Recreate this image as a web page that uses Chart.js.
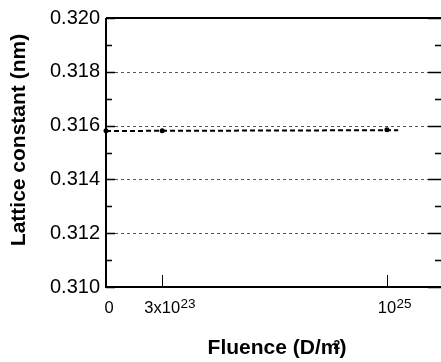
<!DOCTYPE html>
<html>
<head>
<meta charset="utf-8">
<script src="https://cdn.jsdelivr.net/npm/chart.js@4"></script>
<style>
  body { margin: 0; background: #fff; }
  .wrap { width: 441px; height: 362px; overflow: hidden; }
</style>
</head>
<body>
<div class="wrap"><canvas id="myChart" width="448" height="362"></canvas></div>
<script>
// fluence positions (scale units, 0 / 3x10^23 / 10^25 on a stretched axis)
const fluencePos = [0, 1, 5]
const latticeValues = [0.31581, 0.31581, 0.31585]
// dashed fit line
const fitPos = [0, 5.2]
const fitValues = [0.31580, 0.31583]
// x tick labels: base text + exponent
const xTickPos = [0, 1, 5]
const xTickBase = ['0', '3x10', '10']
const xTickExp = ['', '23', '25']
const yMajor = [0.310, 0.312, 0.314, 0.316, 0.318, 0.320]
const yMinor = [0.311, 0.313, 0.315, 0.317, 0.319]

const FONT = '"Liberation Sans", Arial, sans-serif'

const ctx = document.getElementById('myChart')

const framePlugin = {
    id: 'frame',
    afterDraw(chart) {
        const c = chart.ctx
        const a = chart.chartArea
        const x = chart.scales.x
        const y = chart.scales.y
        c.save()

        // dashed gridlines
        c.strokeStyle = '#555'
        c.lineWidth = 1
        c.setLineDash([3, 3])
        for (let i = 1; i < yMajor.length - 1; i++) {
            let py = Math.round(y.getPixelForValue(yMajor[i])) + 0.5
            c.beginPath()
            c.moveTo(a.left + 9, py)
            c.lineTo(a.right - 14, py)
            c.stroke()
        }
        c.setLineDash([])

        // tick marks
        c.strokeStyle = '#000'
        c.lineWidth = 1.5
        for (let i = 0; i < yMajor.length; i++) {
            let py = Math.round(y.getPixelForValue(yMajor[i])) + 0.5
            c.beginPath()
            c.moveTo(a.left, py); c.lineTo(a.left + 9, py)
            c.moveTo(a.right - 14, py); c.lineTo(a.right, py)
            c.stroke()
        }
        for (let i = 0; i < yMinor.length; i++) {
            let py = Math.round(y.getPixelForValue(yMinor[i])) + 0.5
            c.beginPath()
            c.moveTo(a.left, py); c.lineTo(a.left + 6, py)
            c.moveTo(a.right - 7, py); c.lineTo(a.right, py)
            c.stroke()
        }
        c.lineWidth = 1
        for (let i = 1; i < xTickPos.length; i++) {
            let px = Math.round(x.getPixelForValue(xTickPos[i])) + 0.5
            c.beginPath()
            c.moveTo(px, a.bottom - 12); c.lineTo(px, a.bottom)
            c.stroke()
        }

        // frame
        c.lineWidth = 2
        c.beginPath()
        c.moveTo(a.left, a.top); c.lineTo(a.right, a.top)
        c.moveTo(a.left, a.top); c.lineTo(a.left, a.bottom)
        c.moveTo(a.left - 1, a.bottom); c.lineTo(a.right, a.bottom)
        c.moveTo(a.right, a.top); c.lineTo(a.right, a.bottom)
        c.stroke()

        // x tick labels with exponents
        c.fillStyle = '#000'
        c.textBaseline = 'alphabetic'
        for (let i = 0; i < xTickPos.length; i++) {
            let px = x.getPixelForValue(xTickPos[i])
            if (i == 0) px += 3
            c.font = '16.5px ' + FONT
            let w = c.measureText(xTickBase[i]).width
            c.textAlign = 'left'
            c.fillText(xTickBase[i], px - w / 2, a.bottom + 26)
            if (xTickExp[i]) {
                c.font = '13.5px ' + FONT
                c.fillText(xTickExp[i], px + w / 2 + 0.5, a.bottom + 21)
            }
        }

        // axis titles
        c.font = 'bold 21px ' + FONT
        let t1 = 'Fluence (D/m'
        let w1 = c.measureText(t1).width
        let w2 = c.measureText(')').width
        let start = 277 - (w1 + w2) / 2
        c.textAlign = 'left'
        c.fillText(t1, start, 354)
        c.fillText(')', start + w1, 354)
        c.font = 'bold 12px ' + FONT
        c.fillText('2', start + w1 - 6, 349)

        c.save()
        c.translate(19, 140)
        c.rotate(-Math.PI / 2)
        c.font = 'bold 21px ' + FONT
        c.textAlign = 'center'
        c.textBaseline = 'middle'
        c.fillText('Lattice constant (nm)', 0, 0)
        c.restore()

        c.restore()
    }
}

let points = []
for (let i = 0; i < fluencePos.length; i++) {
    points.push({ x: fluencePos[i], y: latticeValues[i] })
}
let fit = []
for (let i = 0; i < fitPos.length; i++) {
    fit.push({ x: fitPos[i], y: fitValues[i] })
}

new Chart(ctx, {
    type: 'scatter',
    data: {
        datasets: [{
            label: 'fit',
            data: fit,
            showLine: true,
            borderColor: '#000',
            borderWidth: 2,
            borderDash: [5, 3],
            pointRadius: 0,
            clip: false
        }, {
            label: 'Lattice constant',
            data: points,
            showLine: false,
            pointRadius: 2.5,
            pointBackgroundColor: '#000',
            pointBorderWidth: 0,
            clip: false
        }]
    },
    options: {
        responsive: false,
        animation: false,
        devicePixelRatio: 1,
        layout: { padding: { top: 16, right: 6, left: 0, bottom: 0 } },
        plugins: {
            legend: { display: false },
            tooltip: { enabled: false }
        },
        scales: {
            x: {
                type: 'linear',
                min: 0,
                max: 5.98,
                grid: { display: false },
                border: { display: false },
                ticks: { display: false },
                afterFit: (scale) => { scale.height = 75 }
            },
            y: {
                min: 0.310,
                max: 0.320,
                grid: { display: false, drawTicks: false },
                border: { display: false },
                ticks: {
                    stepSize: 0.002,
                    padding: 6,
                    color: '#000',
                    font: { family: FONT, size: 20 },
                    callback: (v) => v.toFixed(3)
                },
                afterFit: (scale) => { scale.width = 106 }
            }
        }
    },
    plugins: [framePlugin]
})
</script>
</body>
</html>
